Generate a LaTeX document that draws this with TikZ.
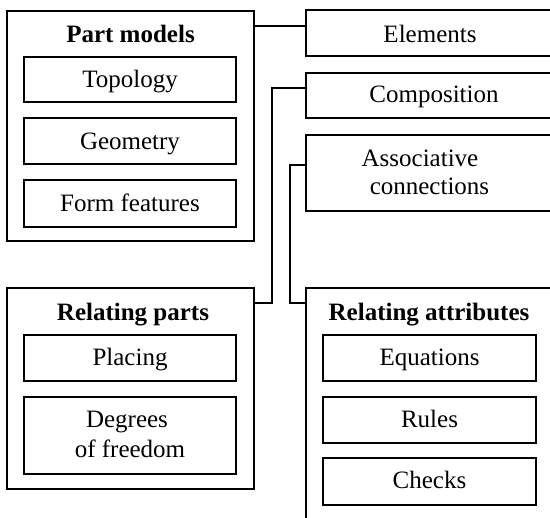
\documentclass[tikz,border=0pt]{standalone}
\usepackage{fontspec}
\setmainfont{Liberation Serif}
\begin{document}
\begin{tikzpicture}[x=1pt,y=-1pt,
  frame/.style={draw, line width=2.6pt, inner sep=0pt},
  item/.style={draw, line width=2.2pt, inner sep=0pt},
  link/.style={line width=2.2pt},
  lbl/.style={anchor=base, inner sep=0pt, font=\fontsize{25}{29}\selectfont},
  head/.style={lbl, font=\fontsize{25}{29}\selectfont\bfseries},
]
\useasboundingbox (0,0) rectangle (550,518);

% Part models group
\node[frame, minimum width=247pt, minimum height=230pt] (pm) at (130.5,126) {};
\node[head] (pmT) at (130.5,42.3) {Part models};
\node[item, minimum width=212pt, minimum height=45pt] (topo) at (130,79.5) {};
\node[lbl] (topoT) at (130,87.5) {Topology};
\node[item, minimum width=212pt, minimum height=46pt] (geom) at (130,141) {};
\node[lbl] (geomT) at (130,150) {Geometry};
\node[item, minimum width=212pt, minimum height=47pt] (form) at (130,203.5) {};
\node[lbl] (formT) at (130,211.7) {Form features};

% Right column
\node[item, minimum width=248pt, minimum height=46pt] (elem) at (430,33) {};
\node[lbl] (elemT) at (430,42.7) {Elements};
\node[item, minimum width=248pt, minimum height=45pt] (comp) at (430,95.5) {};
\node[lbl] (compT) at (434,103) {Composition};
\node[item, minimum width=248pt, minimum height=76pt] (assoc) at (430,173) {};
\node[lbl] (assocT1) at (420,166.7) {Associative};
\node[lbl] (assocT2) at (429.5,195) {connections};

% Relating parts group
\node[frame, minimum width=247pt, minimum height=201pt] (rp) at (130.5,388.5) {};
\node[head] (rpT) at (133,320.7) {Relating parts};
\node[item, minimum width=212pt, minimum height=46pt] (plac) at (130,358) {};
\node[lbl] (placT) at (130,366) {Placing};
\node[item, minimum width=212pt, minimum height=77pt] (dof) at (130,435.5) {};
\node[lbl] (dofT1) at (127,428) {Degrees};
\node[lbl] (dofT2) at (130,458) {of freedom};

% Relating attributes group
\node[frame, minimum width=248pt, minimum height=252pt] (ra) at (430,414) {};
\node[head] (raT) at (429,320.7) {Relating attributes};
\node[item, minimum width=213pt, minimum height=46pt] (eq) at (429.5,358) {};
\node[lbl] (eqT) at (429.5,366) {Equations};
\node[item, minimum width=213pt, minimum height=46pt] (rules) at (429.5,420) {};
\node[lbl] (rulesT) at (429.5,427.7) {Rules};
\node[item, minimum width=213pt, minimum height=47pt] (chk) at (429.5,481.5) {};
\node[lbl] (chkT) at (429.5,489) {Checks};

% Connectors
\coordinate (j1) at (0,26);
\coordinate (j2) at (272,303);
\coordinate (j3) at (272,88);
\coordinate (j4) at (290,303);
\coordinate (j5) at (290,165);
\draw[link] (pm.east |- j1) -- (elem.west |- j1);
\draw[link] (rp.east |- j2) -- (j2) -- (j3) -- (comp.west |- j3);
\draw[link] (ra.west |- j4) -- (j4) -- (j5) -- (assoc.west |- j5);
\end{tikzpicture}
\end{document}
